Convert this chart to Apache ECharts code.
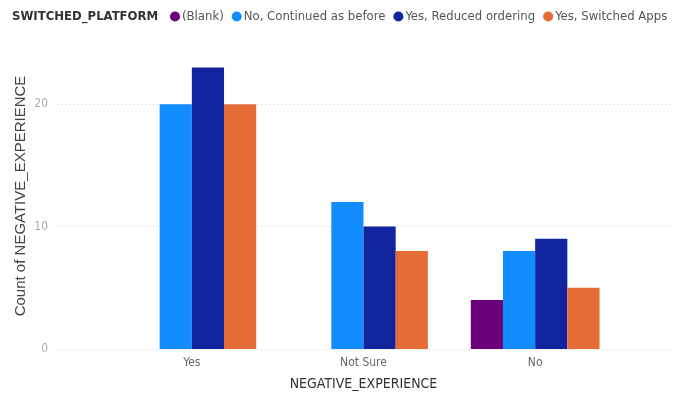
<!DOCTYPE html>
<html>
<head>
<meta charset="utf-8">
<script src="https://cdn.jsdelivr.net/npm/echarts@6/dist/echarts.min.js"></script>
<style>
  html, body { margin: 0; padding: 0; background: #fff; }
  #chart { width: 684px; height: 398px; }
</style>
</head>
<body>
<div id="chart"></div>
<script>
const categories = ["Yes", "Not Sure", "No"];
const seriesNames = ["(Blank)", "No, Continued as before", "Yes, Reduced ordering", "Yes, Switched Apps"];
const blankValues = [null, null, 4];
const continuedValues = [20, 12, 8];
const reducedValues = [23, 10, 9];
const switchedValues = [20, 8, 5];
const yTicks = [0, 10, 20];

const colors = ["#6B007B", "#118DFF", "#12239E", "#E66C37"];
const font = "'DejaVu Sans Condensed', sans-serif";
const seriesData = [blankValues, continuedValues, reducedValues, switchedValues];

const chart = echarts.init(document.getElementById("chart"));

const option = {
  animation: false,
  color: colors,
  textStyle: { fontFamily: font },
  title: {
    text: "SWITCHED_PLATFORM",
    left: 12,
    top: 10,
    padding: 0,
    textStyle: { fontFamily: font, fontSize: 13, fontWeight: "bold", color: "#333" }
  },
  legend: {
    left: 170,
    top: 10,
    icon: "circle",
    itemWidth: 10,
    itemHeight: 10,
    itemGap: 8,
    padding: 0,
    textStyle: { fontFamily: font, fontSize: 13, color: "#555", padding: [0, 0, 0, -3] },
    data: seriesNames
  },
  grid: [
    // wide grid carries the tick labels and dotted grid lines (0..20)
    { left: 57, right: 14, top: 104, bottom: 49 },
    // narrower grid carries the bars (0..25)
    { left: 106, right: 63, top: 43, bottom: 49 }
  ],
  xAxis: [
    { gridIndex: 0, type: "category", data: [], show: false },
    {
      gridIndex: 1,
      type: "category",
      data: categories,
      axisLine: { show: false },
      axisTick: { show: false },
      axisLabel: { color: "#666", fontSize: 12, margin: 8, fontFamily: font },
      name: "NEGATIVE_EXPERIENCE",
      nameLocation: "middle",
      nameGap: 28,
      nameTextStyle: { color: "#333", fontSize: 14, fontFamily: font }
    }
  ],
  yAxis: [
    {
      gridIndex: 0,
      type: "value",
      min: 0,
      max: 20,
      interval: 10,
      axisLine: { show: false },
      axisTick: { show: false },
      axisLabel: {
        color: "#aaa",
        fontSize: 12,
        margin: 9,
        fontFamily: font,
        formatter: v => (yTicks.includes(v) ? String(v) : "")
      },
      splitLine: { lineStyle: { type: [1, 3], color: "#c8c8c8" } }
    },
    {
      gridIndex: 1,
      type: "value",
      min: 0,
      max: 25,
      axisLine: { show: false },
      axisTick: { show: false },
      axisLabel: { show: false },
      splitLine: { show: false },
      name: "Count of NEGATIVE_EXPERIENCE",
      nameLocation: "middle",
      nameGap: 78,
      nameTextStyle: { color: "#444", fontSize: 15, fontFamily: "'Liberation Sans', Arial, sans-serif" }
    }
  ],
  series: seriesNames.map((name, i) => ({
    name: name,
    type: "bar",
    xAxisIndex: 1,
    yAxisIndex: 1,
    barGap: "0%",
    barCategoryGap: "25%",
    data: seriesData[i]
  }))
};

chart.setOption(option);
</script>
</body>
</html>
